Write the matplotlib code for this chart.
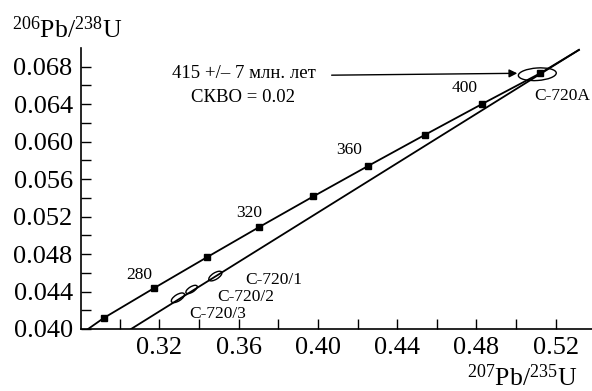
import matplotlib
matplotlib.use("Agg")
import matplotlib.pyplot as plt
from matplotlib.patches import Ellipse
from matplotlib.transforms import ScaledTranslation
import numpy as np

plt.rcParams['font.family'] = ['Liberation Serif', 'DejaVu Serif']
plt.rcParams['mathtext.default'] = 'regular'

# concordia points (207Pb/235U, 206Pb/238U), every 20 Ma from 260 to 420
conc_x = [0.2918, 0.3175, 0.3438, 0.3704, 0.3977, 0.4255, 0.4539, 0.4828, 0.5123]
conc_y = [0.04116, 0.04439, 0.04764, 0.05089, 0.05416, 0.05743, 0.06072, 0.06402, 0.06732]
# line ends beyond the marked points
conc_line_x = [0.2840] + conc_x + [0.5317]
conc_line_y = [0.0400] + conc_y + [0.0698]

age_labels = ['280', '320', '360', '400']
age_x = [0.3099, 0.3654, 0.4159, 0.4739]
age_y = [0.04576, 0.05237, 0.05909, 0.06571]

# discordia
disc_x = [0.3057, 0.5317]
disc_y = [0.0400, 0.0698]

# analyses (ellipses)
samples = ['C-720/1', 'C-720/2', 'C-720/3', 'C-720A']
samp_x = [0.3482, 0.3362, 0.3293, 0.5107]
samp_y = [0.04565, 0.04422, 0.04333, 0.0672]
ell_w = [0.15, 0.13, 0.15, 0.38]   # inches
ell_h = [0.065, 0.055, 0.065, 0.125]
ell_a = [32, 32, 32, 4]
lab_x = [0.3634, 0.3492, 0.3351, 0.5092]
lab_y = [0.04523, 0.04341, 0.0416, 0.06485]

fig = plt.figure(figsize=(5.92, 3.91), dpi=100)
ax = fig.add_axes([0.1368, 0.1586, 0.8632, 0.7186])

ax.plot(conc_line_x, conc_line_y, color='black', lw=1.3, zorder=2)
ax.plot(conc_x, conc_y, 's', color='black', ms=4.6, zorder=3)
ax.plot(disc_x, disc_y, color='black', lw=1.3, zorder=2)

for lab, x, y in zip(age_labels, age_x, age_y):
    ax.text(x, y, lab, fontsize=12.5, ha='center', va='center')

for i in range(len(samples)):
    tr = fig.dpi_scale_trans + ScaledTranslation(samp_x[i], samp_y[i], ax.transData)
    e = Ellipse((0, 0), ell_w[i], ell_h[i], angle=ell_a[i], transform=tr,
                fill=False, edgecolor='black', lw=1.0, zorder=4)
    ax.add_patch(e)
    ax.text(lab_x[i], lab_y[i], samples[i], fontsize=12.5, ha='left', va='center')

ax.text(0.3628, 0.0673, '415 +/– 7 млн. лет', fontsize=13.5, ha='center', va='center')
ax.text(0.3623, 0.06467, 'СКВО = 0.02', fontsize=13.5, ha='center', va='center')
ax.annotate('', xy=(0.5006, 0.0673), xytext=(0.4069, 0.0671),
            arrowprops=dict(arrowstyle='-|>', color='black', lw=1.0,
                            mutation_scale=12, shrinkA=0, shrinkB=0))

ax.set_xlim(0.2804, 0.5383)
ax.set_ylim(0.040, 0.070)
xt = np.arange(0.30, 0.535, 0.02)
ax.set_xticks(xt)
ax.set_xticklabels(['%.2f' % v if round(v * 100) % 4 == 0 else '' for v in xt])
yt = np.arange(0.040, 0.0695, 0.002)
ax.set_yticks(yt)
ax.set_yticklabels(['%.3f' % v if round(v * 1000) % 4 == 0 else '' for v in yt])
ax.tick_params(direction='in', length=7, width=1, labelsize=19, pad=6)
ax.spines['top'].set_visible(False)
ax.spines['right'].set_visible(False)
for s in ['left', 'bottom']:
    ax.spines[s].set_linewidth(1.2)

fig.text(0.02, 0.903, '$^{206}$Pb/$^{238}$U', fontsize=18.5, ha='left', va='baseline')
fig.text(0.975, 0.0, '$^{207}$Pb/$^{235}$U', fontsize=18.5, ha='right', va='bottom')

fig.savefig('out.png', dpi=100)
